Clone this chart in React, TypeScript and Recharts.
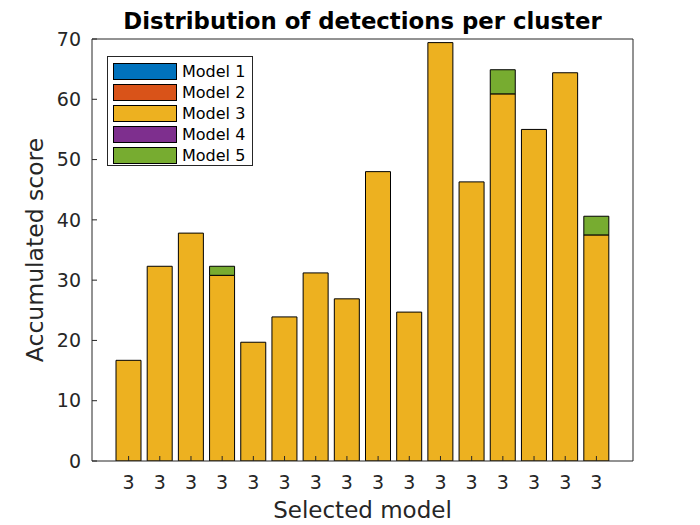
import { Bar, BarChart, Legend, XAxis, YAxis } from 'recharts';

const FONT = '"DejaVu Sans", sans-serif';
const INK = '#262626';

const categories = ['3', '3', '3', '3', '3', '3', '3', '3', '3', '3', '3', '3', '3', '3', '3', '3'];
const model1 = [0, 0, 0, 0, 0, 0, 0, 0, 0, 0, 0, 0, 0, 0, 0, 0];
const model2 = [0, 0, 0, 0, 0, 0, 0, 0, 0, 0, 0, 0, 0, 0, 0, 0];
const model3 = [16.7, 32.3, 37.8, 30.8, 19.7, 23.9, 31.2, 26.9, 48.0, 24.7, 69.4, 46.3, 60.9, 55.0, 64.4, 37.5];
const model4 = [0, 0, 0, 0, 0, 0, 0, 0, 0, 0, 0, 0, 0, 0, 0, 0];
const model5 = [0, 0, 0, 1.5, 0, 0, 0, 0, 0, 0, 0, 0, 4.0, 0, 0, 3.1];
const yTicks = [0, 10, 20, 30, 40, 50, 60, 70];

const seriesNames = ['Model 1', 'Model 2', 'Model 3', 'Model 4', 'Model 5'];
const seriesKeys = ['m1', 'm2', 'm3', 'm4', 'm5'];
const seriesColors = ['#0072BD', '#D95319', '#EDB120', '#7E2F8E', '#77AC30'];

const data = categories.map((label, i) => ({
  label,
  m1: model1[i],
  m2: model2[i],
  m3: model3[i],
  m4: model4[i],
  m5: model5[i],
}));

function BoxLegend() {
  return (
    <div
      style={{
        boxSizing: 'border-box',
        width: 146,
        height: 110,
        border: `1px solid ${INK}`,
        background: '#fff',
        padding: '4px 0 0 5px',
        fontFamily: FONT,
        fontSize: 16,
        color: '#000',
      }}
    >
      {seriesNames.map((name, i) => (
        <div key={name} style={{ display: 'flex', alignItems: 'center', height: 21 }}>
          <div
            style={{
              boxSizing: 'border-box',
              width: 64,
              height: 17,
              background: seriesColors[i],
              border: '1.5px solid #000',
            }}
          />
          <span style={{ marginLeft: 5, whiteSpace: 'nowrap' }}>{name}</span>
        </div>
      ))}
    </div>
  );
}

export default function App() {
  const tickStyle = { fontSize: 19, fill: INK, fontFamily: FONT };
  return (
    <div style={{ position: 'absolute', left: 0, top: 0, width: 700, height: 525, background: '#fff', fontFamily: FONT }}>
      <BarChart
        width={700}
        height={525}
        data={data}
        margin={{ top: 38, right: 66, bottom: 0, left: 0 }}
        barSize={25}
      >
        <XAxis
          dataKey="label"
          xAxisId="bottom"
          height={64}
          padding={{ left: 21, right: 21 }}
          axisLine={{ stroke: INK }}
          tickLine={{ stroke: INK }}
          tickSize={-5}
          tickMargin={20}
          tick={tickStyle}
          interval={0}
          label={{
            value: 'Selected model',
            position: 'insideBottom',
            offset: 7,
            fontSize: 23,
            fill: INK,
            fontFamily: FONT,
          }}
        />
        <XAxis
          dataKey="label"
          xAxisId="top"
          orientation="top"
          height={1}
          padding={{ left: 21, right: 21 }}
          axisLine={{ stroke: INK }}
          tickLine={{ stroke: INK }}
          tickSize={-5}
          tick={false}
          interval={0}
          label={{
            value: 'Distribution of detections per cluster',
            position: 'top',
            offset: 9,
            fontSize: 22.8,
            fontWeight: 'bold',
            fill: '#000',
            fontFamily: FONT,
          }}
        />
        <YAxis
          yAxisId="left"
          width={92}
          domain={[0, 70]}
          ticks={yTicks}
          allowDataOverflow
          axisLine={{ stroke: INK }}
          tickLine={{ stroke: INK }}
          tickSize={-5}
          tickMargin={16}
          tick={tickStyle}
          label={{
            value: 'Accumulated score',
            angle: -90,
            position: 'center',
            dx: -11,
            fontSize: 23.5,
            fill: INK,
            fontFamily: FONT,
          }}
        />
        <YAxis
          yAxisId="right"
          orientation="right"
          width={1}
          domain={[0, 70]}
          ticks={yTicks}
          axisLine={{ stroke: INK }}
          tickLine={{ stroke: INK }}
          tickSize={-5}
          tick={false}
        />
        <Legend
          layout="horizontal"
          verticalAlign="middle"
          align="center"
          wrapperStyle={{ left: 107, top: 56, width: 146, height: 110 }}
          content={() => <BoxLegend />}
        />
        {seriesKeys.map((key, i) => (
          <Bar
            key={key}
            dataKey={key}
            name={seriesNames[i]}
            stackId="a"
            xAxisId="bottom"
            yAxisId="left"
            fill={seriesColors[i]}
            stroke="#000"
            strokeWidth={1}
            isAnimationActive={false}
          />
        ))}
      </BarChart>
    </div>
  );
}
